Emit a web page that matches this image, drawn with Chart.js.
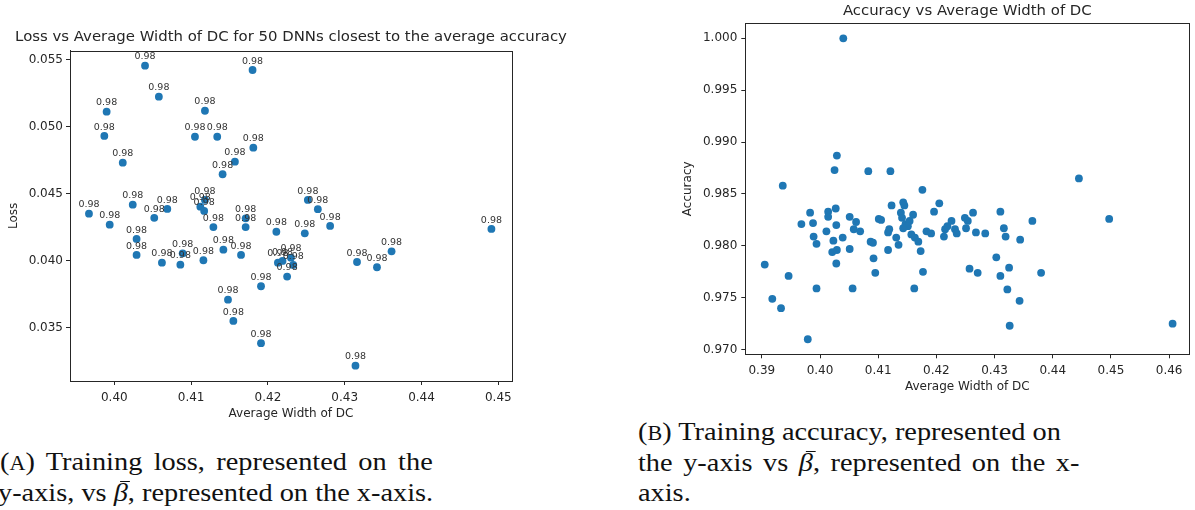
<!DOCTYPE html>
<html>
<head>
<meta charset="utf-8">
<script src="https://cdn.jsdelivr.net/npm/chart.js@4.4.1/dist/chart.umd.min.js"></script>
<style>
  body { margin: 0; width: 1195px; height: 510px; background: #fff; position: relative; overflow: hidden; }
  canvas { position: absolute; top: 0; }
  #lossChart { left: 0; }
  #accChart { left: 675px; }
  .caption { position: absolute; font-family: "Liberation Serif", serif; font-size: 26px; color: #111;
    white-space: nowrap; line-height: 31px; transform: scaleX(1.09); transform-origin: 0 0; }
  .just { text-align: justify; text-align-last: justify; }
  .sc { font-size: 0.78em; }
  .bar { position: relative; }
  .bar::before { content: ''; position: absolute; left: 0.24em; width: 0.34em; top: 0.1em; border-top: 1.2px solid #111; }
</style>
</head>
<body>
<canvas id="lossChart" width="582" height="425"></canvas>
<canvas id="accChart" width="520" height="400"></canvas>

<div class="caption just" style="left:0px; top:446px; width:397px">(<span class="sc">A</span>) Training loss, represented on the</div>
<div class="caption" style="left:-2px; top:477px">y-axis, vs <i class="bar">β</i>, represented on the x-axis.</div>
<div class="caption just" style="left:638px; top:416px; width:387px">(<span class="sc">B</span>) Training accuracy, represented on</div>
<div class="caption just" style="left:638px; top:447px; width:405px">the y-axis vs <i class="bar">β</i>, represented on the x-</div>
<div class="caption" style="left:638px; top:477px">axis.</div>

<script>
// loss vs average width for the 50 nets nearest the mean accuracy
const lossWidth = [0.4040, 0.4180, 0.4058, 0.3990, 0.4118, 0.3987, 0.4105, 0.4134, 0.4181, 0.4011,
  0.4157, 0.4141, 0.4024, 0.3967, 0.4069, 0.4052, 0.4118, 0.4112, 0.4117, 0.3994,
  0.4129, 0.4171, 0.4171, 0.4211, 0.4029, 0.4029, 0.4062, 0.4086, 0.4089, 0.4116,
  0.4142, 0.4165, 0.4148, 0.4155, 0.4191, 0.4191, 0.4213, 0.4219, 0.4225, 0.4230,
  0.4233, 0.4252, 0.4265, 0.4281, 0.4248, 0.4316, 0.4342, 0.4361, 0.4491, 0.4314];
const lossValue = [0.05455, 0.05423, 0.05224, 0.05112, 0.05119, 0.04931, 0.04925, 0.04925, 0.04843, 0.04731,
  0.04739, 0.04645, 0.04418, 0.04351, 0.04386, 0.04320, 0.04453, 0.04403, 0.04371, 0.04269,
  0.04251, 0.04316, 0.04251, 0.04216, 0.04162, 0.04043, 0.03985, 0.03970, 0.04055, 0.04003,
  0.04082, 0.04043, 0.03709, 0.03550, 0.03809, 0.03384, 0.03985, 0.03998, 0.03881, 0.04022,
  0.03968, 0.04453, 0.04384, 0.04259, 0.04204, 0.03990, 0.03951, 0.04070, 0.04237, 0.03216];
const lossAccuracy = [0.98, 0.98, 0.98, 0.98, 0.98, 0.98, 0.98, 0.98, 0.98, 0.98,
  0.98, 0.98, 0.98, 0.98, 0.98, 0.98, 0.98, 0.98, 0.98, 0.98,
  0.98, 0.98, 0.98, 0.98, 0.98, 0.98, 0.98, 0.98, 0.98, 0.98,
  0.98, 0.98, 0.98, 0.98, 0.98, 0.98, 0.98, 0.98, 0.98, 0.98,
  0.98, 0.98, 0.98, 0.98, 0.98, 0.98, 0.98, 0.98, 0.98, 0.98];
const lossXTicks = [0.40, 0.41, 0.42, 0.43, 0.44, 0.45];
const lossYTicks = [0.035, 0.040, 0.045, 0.050, 0.055];

// accuracy vs average width, all nets
const accWidth = [0.4040, 0.4029, 0.4025, 0.4083, 0.4121, 0.3936, 0.4176, 0.4445, 0.3905, 0.3918,
  0.3933, 0.3946, 0.3979, 0.3968, 0.3983, 0.3988, 0.3989, 0.3994, 0.3994, 0.4011,
  0.4014, 0.4014, 0.4027, 0.4028, 0.4023, 0.4021, 0.4029, 0.4028, 0.4039, 0.4051,
  0.4062, 0.4058, 0.4069, 0.4051, 0.4056, 0.4087, 0.4091, 0.4092, 0.4095, 0.4101,
  0.4105, 0.4117, 0.4119, 0.4117, 0.4123, 0.4131, 0.4135, 0.4139, 0.4143, 0.4145,
  0.4141, 0.4147, 0.4154, 0.4151, 0.4143, 0.4162, 0.4160, 0.4157, 0.4163, 0.4169,
  0.4173, 0.4177, 0.4183, 0.4191, 0.4196, 0.4205, 0.4215, 0.4219, 0.4226, 0.4232,
  0.4213, 0.4235, 0.4249, 0.4254, 0.4251, 0.4263, 0.4268, 0.4284, 0.4310, 0.4316,
  0.4319, 0.4344, 0.4365, 0.4497, 0.4303, 0.4257, 0.4271, 0.4310, 0.4325, 0.4380,
  0.4322, 0.4343, 0.4326, 0.4606];
const accValue = [1.0000, 0.9887, 0.9873, 0.9872, 0.9872, 0.9858, 0.9854, 0.9865, 0.9782, 0.9749,
  0.9740, 0.9771, 0.9710, 0.9821, 0.9832, 0.9822, 0.9809, 0.9802, 0.9759, 0.9814,
  0.9833, 0.9828, 0.9836, 0.9820, 0.9805, 0.9794, 0.9796, 0.9783, 0.9808, 0.9828,
  0.9823, 0.9816, 0.9814, 0.9797, 0.9759, 0.9804, 0.9803, 0.9788, 0.9774, 0.9826,
  0.9825, 0.9813, 0.9816, 0.9796, 0.9839, 0.9808, 0.9801, 0.9832, 0.9842, 0.9839,
  0.9827, 0.9821, 0.9824, 0.9819, 0.9817, 0.9759, 0.9830, 0.9811, 0.9808, 0.9804,
  0.9795, 0.9775, 0.9814, 0.9812, 0.9833, 0.9841, 0.9816, 0.9819, 0.9824, 0.9816,
  0.9809, 0.9812, 0.9827, 0.9824, 0.9817, 0.9832, 0.9813, 0.9812, 0.9833, 0.9817,
  0.9809, 0.9806, 0.9824, 0.9826, 0.9789, 0.9778, 0.9774, 0.9771, 0.9779, 0.9774,
  0.9758, 0.9747, 0.9723, 0.9725];
const accXTicks = [0.39, 0.40, 0.41, 0.42, 0.43, 0.44, 0.45, 0.46];
const accYTicks = [0.970, 0.975, 0.980, 0.985, 0.990, 0.995, 1.000];

const BLUE = '#1f77b4';
const INK = '#262626';

Chart.defaults.font.family = '"DejaVu Sans", sans-serif';
Chart.defaults.font.size = 12;
Chart.defaults.color = INK;

// matplotlib-style box around the plotting area
const frame = {
  id: 'frame',
  afterDraw(chart) {
    const { ctx, chartArea: a } = chart;
    ctx.save();
    ctx.strokeStyle = INK;
    ctx.lineWidth = 1;
    ctx.strokeRect(Math.round(a.left) + 0.5, Math.round(a.top) + 0.5,
      Math.round(a.right - a.left), Math.round(a.bottom - a.top));
    ctx.restore();
  }
};

// small text above each point
const pointLabels = {
  id: 'pointLabels',
  afterDatasetsDraw(chart, args, opts) {
    if (!opts.labels) return;
    const { ctx } = chart;
    const meta = chart.getDatasetMeta(0);
    ctx.save();
    ctx.font = '9.5px "DejaVu Sans"';
    ctx.fillStyle = '#333';
    ctx.textAlign = 'center';
    ctx.textBaseline = 'bottom';
    meta.data.forEach((pt, i) => {
      ctx.fillText(opts.labels[i].toFixed(2), pt.x, pt.y - 4);
    });
    ctx.restore();
  }
};

function makeAxis(o) {
  return {
    type: 'linear',
    min: o.min,
    max: o.max,
    afterBuildTicks: s => { s.ticks = o.ticks.map(v => ({ value: v })); },
    afterFit: s => { if (o.width) s.width = o.width; if (o.height) s.height = o.height; },
    grid: { drawOnChartArea: false, drawTicks: true, tickLength: 4, color: INK, lineWidth: 1 },
    border: { display: true, color: INK, width: 1 },
    ticks: { padding: o.tickPad, color: INK, font: { size: 12 }, callback: v => v.toFixed(o.digits) },
    title: { display: true, text: o.title, color: INK, font: { size: 12 }, padding: o.titlePad }
  };
}

// empty right-hand axis, only there to keep the title centred over the plot
function spacerAxis(width) {
  return {
    type: 'linear',
    position: 'right',
    display: true,
    afterFit: s => { s.width = width; },
    grid: { display: false },
    border: { display: false },
    ticks: { display: false }
  };
}

function scatter(id, xs, ys, o) {
  const points = xs.map((x, i) => ({ x: x, y: ys[i] }));
  const scales = { x: o.x, y: o.y };
  if (o.spacer) scales.spacer = spacerAxis(o.spacer);
  return new Chart(document.getElementById(id), {
    type: 'scatter',
    data: {
      datasets: [{
        data: points,
        backgroundColor: BLUE,
        borderWidth: 0,
        pointRadius: 3.9,
        pointHoverRadius: 3.9
      }]
    },
    options: {
      responsive: false,
      animation: false,
      events: [],
      layout: { padding: { left: 0, right: o.padRight, top: 0, bottom: 0 } },
      plugins: {
        legend: { display: false },
        tooltip: { enabled: false },
        title: {
          display: true,
          fullSize: o.fullTitle,
          text: o.title,
          color: INK,
          font: { size: 14.9, weight: 'normal' },
          padding: o.titlePad
        },
        pointLabels: { labels: o.labels }
      },
      scales: scales
    },
    plugins: [frame, pointLabels]
  });
}

scatter('lossChart', lossWidth, lossValue, {
  title: 'Loss vs Average Width of DC for 50 DNNs closest to the average accuracy',
  titlePad: { top: 28.06, bottom: 4.76 },
  fullTitle: true,
  padRight: 0,
  spacer: 70,
  labels: lossAccuracy,
  x: makeAxis({ min: 0.39423, max: 0.45178, ticks: lossXTicks, digits: 2, height: 44,
    tickPad: 6, title: 'Average Width of DC', titlePad: { top: 0, bottom: 4 } }),
  y: makeAxis({ min: 0.03102, max: 0.05567, ticks: lossYTicks, digits: 3, width: 70,
    tickPad: 3, title: 'Loss', titlePad: { top: 6.6, bottom: 0 } })
});

scatter('accChart', accWidth, accValue, {
  title: 'Accuracy vs Average Width of DC',
  titlePad: { top: 2.06, bottom: 3.36 },
  fullTitle: false,
  padRight: 5.7,
  labels: null,
  x: makeAxis({ min: 0.38716, max: 0.46347, ticks: accXTicks, digits: 2, height: 45.7,
    tickPad: 5, title: 'Average Width of DC', titlePad: { top: 0, bottom: 6 } }),
  y: makeAxis({ min: 0.96955, max: 1.00145, ticks: accYTicks, digits: 3, width: 70.3,
    tickPad: 4, title: 'Accuracy', titlePad: { top: 6.1, bottom: 0 } })
});
</script>
</body>
</html>
